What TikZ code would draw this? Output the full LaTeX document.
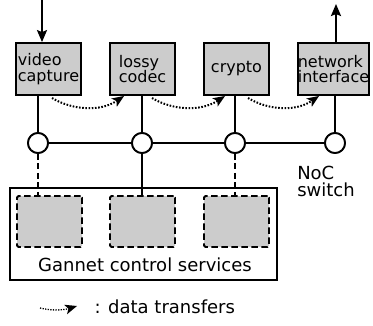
\documentclass[tikz,border=0pt]{standalone}
\usepackage{fontspec}
\setmainfont{DejaVu Sans}
\usetikzlibrary{arrows.meta}
\begin{document}
\begin{tikzpicture}[x=1pt,y=-1pt,
  unit/.style={draw,line width=1.8pt,fill=black!20,minimum width=65pt,minimum height=52pt,inner sep=0pt,font=\fontsize{16}{15.5}\selectfont,align=left},
  svc/.style={draw,dash pattern=on 6.5pt off 3.5pt,line width=1.8pt,fill=black!20,rounded corners=1.5pt,minimum width=65pt,minimum height=51pt,inner sep=0pt},
  sw/.style={circle,draw,line width=1.8pt,fill=white,minimum size=20pt,inner sep=0pt},
  wire/.style={line width=2.2pt},
  dwire/.style={line width=2.2pt,dash pattern=on 6pt off 3.5pt},
  xfer/.style={line width=2pt,dash pattern=on 1.6pt off 1.6pt,-{Stealth[length=12pt,width=10pt,inset=3pt,line width=0pt]}}]
\useasboundingbox (0,0) rectangle (373,325);
% top units
\node[unit] (vc) at (48.5,69) {video\\capture};
\node[unit] (lc) at (142.5,69) {lossy\\codec};
\node[unit] (cr) at (236.5,69) {crypto};
\node[unit] (ni) at (333.5,69) {network\\interface};
% gannet box
\node[draw,line width=1.8pt,minimum width=267pt,minimum height=92pt,inner sep=0pt] (gb) at (143.5,234) {};
\node[svc] (g1) at (49.5,221.5) {};
\node[svc] (g2) at (142.5,221.5) {};
\node[svc] (g3) at (236.5,221.5) {};
\node[font=\fontsize{18}{18}\selectfont] (gl) at (145,265) {Gannet control services};
\node[font=\fontsize{18}{17}\selectfont,align=left] (noc) at (326,181) {NoC\\switch};
% switches
\node[sw] (s1) at (38,143) {};
\node[sw] (s2) at (142,143) {};
\node[sw] (s3) at (235,143) {};
\node[sw] (s4) at (335,143) {};
% io arrows
\coordinate (in) at (42,0);
\coordinate (out) at (336,4);
\draw[wire,-{Stealth[length=12pt,width=10pt,inset=2pt]}] (in) -- (in |- vc.north);
\draw[wire,-{Stealth[length=12pt,width=10pt,inset=2pt]}] (out |- ni.north) -- (out);
% verticals
\draw[wire] (s1 |- vc.south) -- (s1.north);
\draw[wire] (s2 |- lc.south) -- (s2.north);
\draw[wire] (s3 |- cr.south) -- (s3.north);
\draw[wire] (s4 |- ni.south) -- (s4.north);
% horizontal bus
\draw[wire] (s1) -- (s2) -- (s3) -- (s4);
% down to services
\draw[dwire] (s1.south) -- (s1 |- g1.north);
\draw[wire] (s2.south) -- (s2 |- g2.north);
\draw[dwire] (s3.south) -- (s3 |- g3.north);
% redraw switches on top
\node[sw] at (s1) {};
\node[sw] at (s2) {};
\node[sw] at (s3) {};
\node[sw] at (s4) {};
% data transfers
\coordinate (a1) at (52,98); \coordinate (b1) at (124,96);
\coordinate (a2) at (152,98); \coordinate (b2) at (225,96);
\coordinate (a3) at (248,98); \coordinate (b3) at (319,96);
\draw[xfer] (a1) .. controls (72,110) and (100,112) .. (b1);
\draw[xfer] (a2) .. controls (172,110) and (200,112) .. (b2);
\draw[xfer] (a3) .. controls (268,110) and (295,112) .. (b3);
% legend
\coordinate (la) at (40,308); \coordinate (lb) at (77,306);
\draw[xfer,line width=1.3pt,dash pattern=on 1.3pt off 1.3pt] (la) .. controls (52,311) and (64,310) .. (lb);
\node[font=\fontsize{18}{18}\selectfont,anchor=west] (lt) at (91,307) {: data transfers};
\end{tikzpicture}
\end{document}
